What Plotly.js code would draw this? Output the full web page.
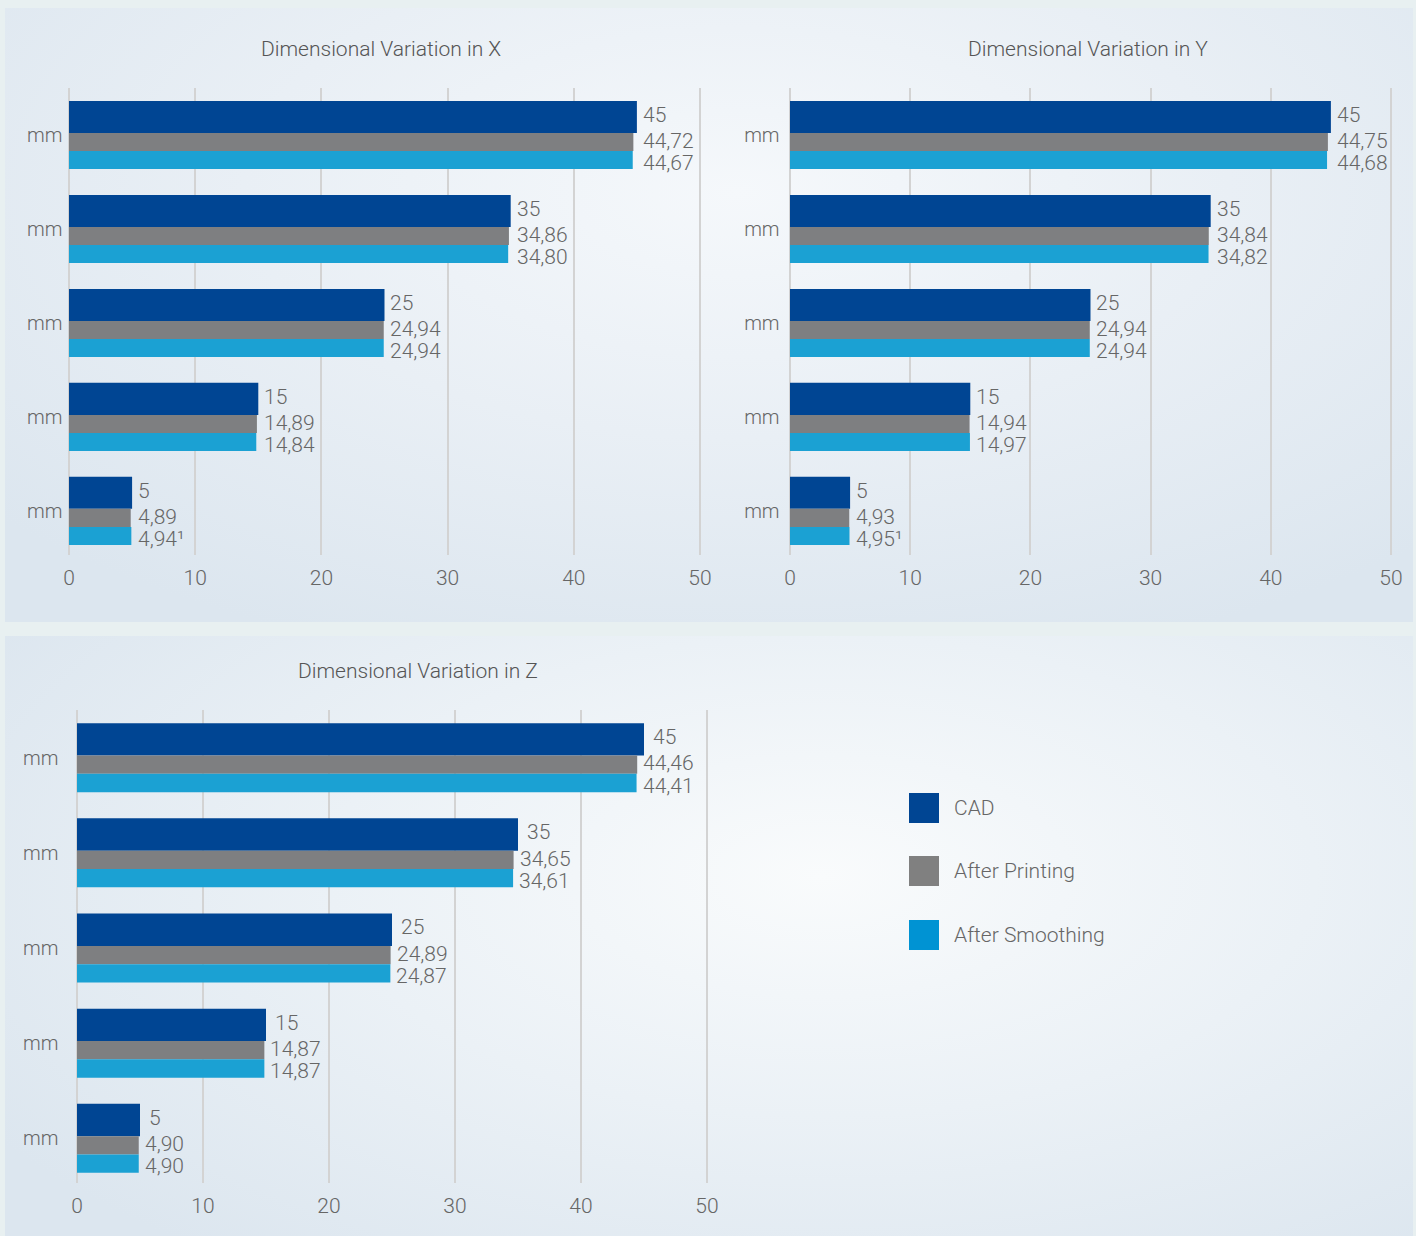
<!DOCTYPE html>
<html>
<head>
<meta charset="utf-8">
<script src="https://cdn.plot.ly/plotly-3.0.1.min.js"></script>
<style>
  html, body { margin:0; padding:0; width:1416px; height:1236px; overflow:hidden; background:#e8f0f1; }
  .panel { position:absolute; }
  #p1 { left:5px; top:8px; width:1408px; height:614px;
        background: radial-gradient(ellipse 70% 80% at 52% 30%, #f5f8fb 0%, #e9eff5 50%, #dce6ef 100%); }
  #p2 { left:5px; top:636px; width:1408px; height:600px;
        background: radial-gradient(ellipse 70% 80% at 58% 40%, #f9fbfc 0%, #ebf1f6 50%, #dce6ef 100%); }
  #chart { position:absolute; left:0; top:0; width:1416px; height:1236px; }
</style>
</head>
<body>
<div class="panel" id="p1"></div>
<div class="panel" id="p2"></div>
<div id="chart"></div>
<script>
// ---- data ----
const seriesNames = ['CAD', 'After Printing', 'After Smoothing'];
const cadSizes = [45, 35, 25, 15, 5];
const categoryLabels = ['mm', 'mm', 'mm', 'mm', 'mm'];

const xPrinting  = [44.72, 34.86, 24.94, 14.89, 4.89];
const xSmoothing = [44.67, 34.80, 24.94, 14.84, 4.94];
const xSmoothNotes = ['', '', '', '', '¹'];

const yPrinting  = [44.75, 34.84, 24.94, 14.94, 4.93];
const ySmoothing = [44.68, 34.82, 24.94, 14.97, 4.95];
const ySmoothNotes = ['', '', '', '', '¹'];

const zPrinting  = [44.46, 34.65, 24.89, 14.87, 4.90];
const zSmoothing = [44.41, 34.61, 24.87, 14.87, 4.90];
const zSmoothNotes = ['', '', '', '', ''];

const chartTitles = ['Dimensional Variation in X', 'Dimensional Variation in Y', 'Dimensional Variation in Z'];
const xTickVals = [0, 10, 20, 30, 40, 50];

// ---- styles ----
const colors = ['#004593', '#7e7f81', '#1ba1d3'];
const legendColors = ['#004593', '#808080', '#0093d3'];
const FONT = 'Roboto, "Liberation Sans", Arial, sans-serif';
const textColor = '#666666';

const W = 1416, H = 1236;
const px = v => v / W;
const py = v => 1 - v / H;

const pos = cadSizes.map((_, i) => i);
function fmt(v, d) { return v.toFixed(d).replace('.', ','); }

// bar geometry in category units
const geo = [
  { offset: -0.362, width: 0.341 },
  { offset: -0.021, width: 0.192 },
  { offset: 0.171,  width: 0.192 }
];
// label vertical offsets (category units)
const labelDy = [-0.215, 0.062, 0.296];

const annotations = [];

function makeTraces(print, smooth, notes, xa, ya, anchorCad) {
  const vals = [cadSizes, print, smooth];
  const texts = [
    cadSizes.map(v => fmt(v, 0)),
    print.map(v => fmt(v, 2)),
    smooth.map((v, i) => fmt(v, 2) + notes[i])
  ];
  vals.forEach((vs, k) => {
    vs.forEach((v, i) => {
      annotations.push({
        xref: xa, yref: ya,
        x: anchorCad ? cadSizes[i] : v,
        y: pos[i] + labelDy[k],
        xanchor: 'left', yanchor: 'middle', showarrow: false,
        xshift: anchorCad ? 4 : (k === 0 ? 7 : 4),
        text: texts[k][i],
        font: { family: FONT, size: 21, color: textColor, weight: 300 }
      });
    });
  });
  return vals.map((vs, k) => ({
    type: 'bar', orientation: 'h',
    x: vs, y: pos,
    xaxis: xa, yaxis: ya,
    name: seriesNames[k],
    marker: { color: colors[k], line: { width: 0 } },
    offset: geo[k].offset, width: geo[k].width,
    hoverinfo: 'x',
    showlegend: false
  }));
}

const data = [].concat(
  makeTraces(xPrinting, xSmoothing, xSmoothNotes, 'x', 'y', true),
  makeTraces(yPrinting, ySmoothing, ySmoothNotes, 'x2', 'y2', true),
  makeTraces(zPrinting, zSmoothing, zSmoothNotes, 'x3', 'y3', false)
);

const PADU = 0.2;
function xAxis(p0, p50, anchor) {
  const s = (p50 - p0) / 50;
  return {
    domain: [px(p0 - PADU * s), px(p50 + PADU * s)], anchor: anchor,
    range: [-PADU, 50 + PADU],
    tickvals: xTickVals, ticktext: xTickVals.map(String),
    showgrid: true, gridcolor: '#d3d3d3', gridwidth: 2,
    zeroline: false, showline: false, ticks: '',
    ticklabelstandoff: 8,
    tickfont: { family: FONT, size: 21, color: textColor, weight: 300 },
    fixedrange: true
  };
}
function yAxis(top, bottom, anchor, standoff) {
  return {
    domain: [py(bottom), py(top)], anchor: anchor, range: [4.47, -0.5],
    tickvals: pos, ticktext: categoryLabels,
    showgrid: false, zeroline: false, showline: false, ticks: '',
    ticklabelstandoff: standoff,
    tickfont: { family: FONT, size: 20, color: textColor, weight: 300 },
    fixedrange: true
  };
}

const shapes = [];
// titles
[[381, 49], [1088, 49], [418, 671]].forEach((p, i) => {
  annotations.push({
    xref: 'paper', yref: 'paper', x: px(p[0]), y: py(p[1]),
    xanchor: 'center', yanchor: 'middle', showarrow: false,
    text: chartTitles[i],
    font: { family: FONT, size: 21, color: '#555555', weight: 300 }
  });
});
// legend
const legendY = [808, 871, 935];
seriesNames.forEach((n, i) => {
  shapes.push({
    type: 'rect', xref: 'paper', yref: 'paper',
    x0: px(909), x1: px(939), y0: py(legendY[i] - 15), y1: py(legendY[i] + 15),
    fillcolor: legendColors[i], line: { width: 0 }
  });
  annotations.push({
    xref: 'paper', yref: 'paper', x: px(952), y: py(legendY[i]),
    xanchor: 'left', yanchor: 'middle', showarrow: false, text: n,
    font: { family: FONT, size: 21, color: textColor, weight: 300 }
  });
});

const layout = {
  width: W, height: H,
  margin: { l: 0, r: 0, t: 0, b: 0 },
  paper_bgcolor: 'rgba(0,0,0,0)', plot_bgcolor: 'rgba(0,0,0,0)',
  barmode: 'overlay',
  showlegend: false,
  font: { family: FONT, color: textColor },
  xaxis:  xAxis(69, 700, 'y'),
  yaxis:  yAxis(88, 555, 'x', 3),
  xaxis2: xAxis(790, 1391, 'y2'),
  yaxis2: yAxis(88, 555, 'x2', 7),
  xaxis3: xAxis(77, 707, 'y3'),
  yaxis3: yAxis(710, 1183, 'x3', 15),
  shapes: shapes,
  annotations: annotations
};

Plotly.newPlot('chart', data, layout, { displayModeBar: false, staticPlot: true });
</script>
</body>
</html>
